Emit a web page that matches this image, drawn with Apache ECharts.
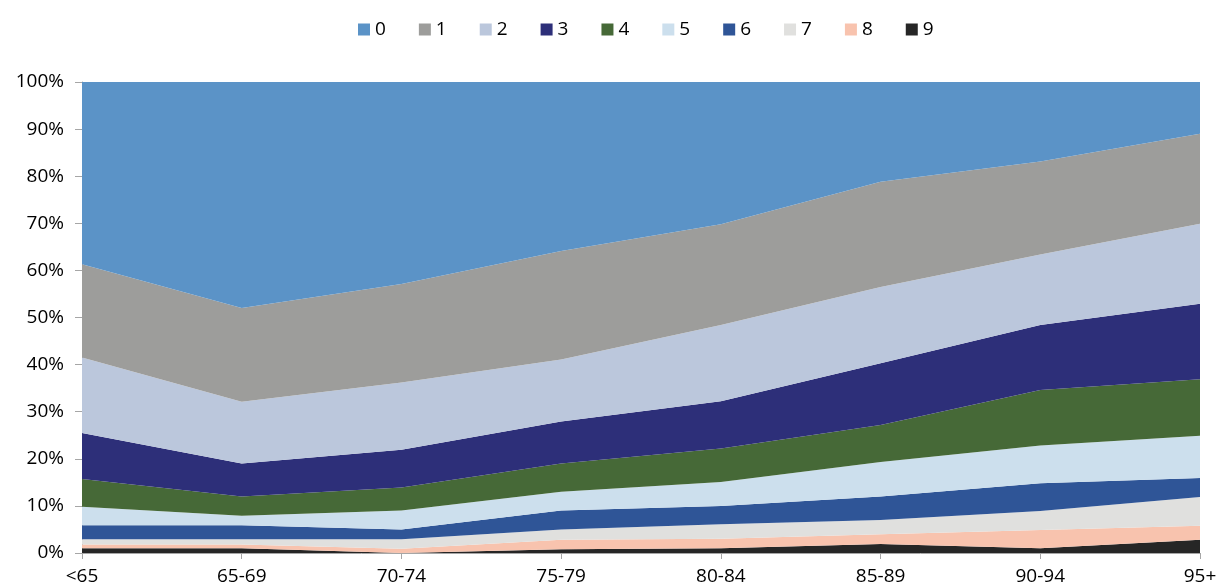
<!DOCTYPE html>
<html>
<head>
<meta charset="utf-8">
<script src="https://cdn.jsdelivr.net/npm/echarts@6/dist/echarts.min.js"></script>
<style>
  html, body { margin: 0; padding: 0; background: #fff; }
  #chart { width: 1221px; height: 588px; }
</style>
</head>
<body>
<div id="chart"></div>
<script>
// age groups on the x axis
var categories = ['<65', '65-69', '70-74', '75-79', '80-84', '85-89', '90-94', '95+'];

// share (%) of each group
var s0 = [38.7, 48.0, 42.9, 35.9, 30.2, 21.2, 16.9, 11.0];
var s1 = [19.8, 19.9, 20.9, 23.0, 21.4, 22.3, 19.7, 19.1];
var s2 = [16.0, 13.1, 14.3, 13.2, 16.2, 16.2, 15.0, 17.0];
var s3 = [9.8, 7.0, 8.0, 8.9, 10.0, 13.1, 13.8, 16.0];
var s4 = [5.9, 4.1, 4.9, 6.0, 7.1, 7.9, 11.8, 12.0];
var s5 = [3.9, 2.0, 4.0, 4.0, 5.1, 7.3, 8.0, 9.0];
var s6 = [3.0, 3.0, 2.1, 4.0, 3.9, 5.0, 5.9, 4.0];
var s7 = [1.1, 1.1, 2.0, 2.2, 3.1, 3.0, 4.0, 6.1];
var s8 = [0.8, 0.8, 0.9, 2.0, 2.0, 2.1, 3.9, 3.0];
var s9 = [1.0, 1.0, 0.0, 0.8, 1.0, 1.9, 1.0, 2.8];

var names = ['0', '1', '2', '3', '4', '5', '6', '7', '8', '9'];
var values = [s0, s1, s2, s3, s4, s5, s6, s7, s8, s9];
var colors = ['#5B93C7', '#9D9D9B', '#BBC7DC', '#2D2F79', '#466937',
              '#CCDFED', '#2F5597', '#E0E0DE', '#F8C3AE', '#262626'];

var font = '"Open Sans", sans-serif';

// stack from the bottom: 9 first, 0 last
var series = [];
for (var i = names.length - 1; i >= 0; i--) {
  series.push({
    name: names[i],
    type: 'line',
    stack: 'total',
    data: values[i],
    showSymbol: false,
    symbol: 'none',
    lineStyle: { width: 0 },
    areaStyle: { color: colors[i], opacity: 1 },
    itemStyle: { color: colors[i] }
  });
}

var chart = echarts.init(document.getElementById('chart'));

var option = {
  animation: false,
  legend: {
    data: names,
    top: 15,
    left: 353,
    itemWidth: 12,
    itemHeight: 12,
    itemGap: 33,
    icon: 'rect',
    textStyle: { fontFamily: font, fontSize: 19, color: '#000' }
  },
  grid: { left: 82, right: 21, top: 82, bottom: 35 },
  xAxis: {
    type: 'category',
    data: categories,
    boundaryGap: false,
    axisLine: { lineStyle: { color: '#A6A6A6', width: 1 } },
    axisTick: { show: true, length: 6, alignWithLabel: true, lineStyle: { color: '#A6A6A6' } },
    axisLabel: { fontFamily: font, fontSize: 19, color: '#000', margin: 14 }
  },
  yAxis: {
    type: 'value',
    min: 0,
    max: 100,
    interval: 10,
    axisLine: { show: true, lineStyle: { color: '#A6A6A6', width: 1 } },
    axisTick: { show: true, length: 7, lineStyle: { color: '#A6A6A6' } },
    splitLine: { show: false },
    axisLabel: {
      fontFamily: font, fontSize: 19, color: '#000', margin: 18,
      formatter: function (v) { return v + '%'; }
    }
  },
  series: series
};

chart.setOption(option);
</script>
</body>
</html>
